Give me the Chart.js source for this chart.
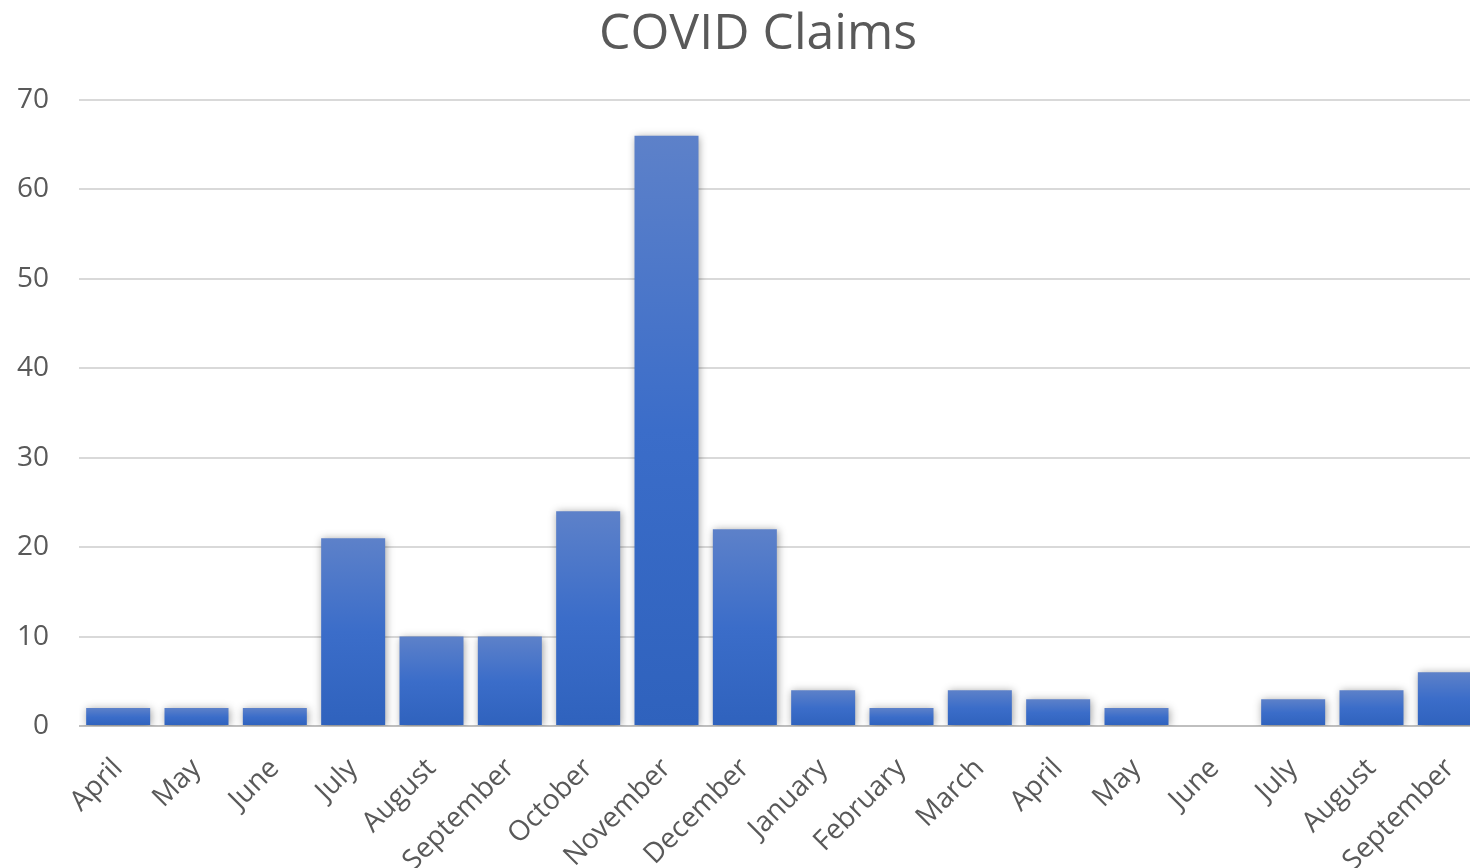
<!DOCTYPE html>
<html>
<head>
<meta charset="utf-8">
<title>COVID Claims</title>
<script src="https://cdn.jsdelivr.net/npm/chart.js@4/dist/chart.umd.min.js"></script>
<style>
  html, body { margin: 0; padding: 0; background: #fff; overflow: hidden; }
  #wrap { position: absolute; left: 0; top: 0; width: 1516px; height: 900px; }
</style>
</head>
<body>
<div id="wrap"><canvas id="chart" width="1516" height="900"></canvas></div>
<script>
// Monthly claim counts, April through the following September
const months = ['April', 'May', 'June', 'July', 'August', 'September', 'October', 'November',
  'December', 'January', 'February', 'March', 'April', 'May', 'June', 'July', 'August', 'September'];
const claims = [2, 2, 2, 21, 10, 10, 24, 66, 22, 4, 2, 4, 3, 2, 0, 3, 4, 6];
const yTicks = [0, 10, 20, 30, 40, 50, 60, 70];

const FONT = "'Open Sans', 'Noto Sans', sans-serif";
const TEXT = '#595959';

// Soft drop shadow behind the bars
const barShadow = {
  id: 'barShadow',
  beforeDatasetsDraw(chart) {
    const ctx = chart.ctx;
    ctx.save();
    ctx.shadowColor = 'rgba(0,0,0,0.38)';
    ctx.shadowBlur = 8;
    ctx.shadowOffsetX = 1;
    ctx.shadowOffsetY = 1;
  },
  afterDatasetsDraw(chart) {
    chart.ctx.restore();
  }
};

// Each bar gets its own light-to-dark vertical gradient
function barFill(c) {
  const chart = c.chart;
  const area = chart.chartArea;
  const y = chart.scales && chart.scales.y;
  if (!area || !y) return '#3d6ecb';
  const top = y.getPixelForValue(c.raw);
  const base = y.getPixelForValue(0);
  if (base - top < 1) return '#3d6ecb';
  const g = chart.ctx.createLinearGradient(0, top, 0, base);
  g.addColorStop(0, '#5d81c9');
  g.addColorStop(0.5, '#3b6dc9');
  g.addColorStop(1, '#2f62bd');
  return g;
}

new Chart(document.getElementById('chart'), {
  type: 'bar',
  data: {
    labels: months,
    datasets: [{
      label: 'Claims',
      data: claims,
      backgroundColor: barFill,
      borderWidth: 0,
      categoryPercentage: 1,
      barPercentage: 0.817
    }]
  },
  plugins: [barShadow],
  options: {
    responsive: false,
    animation: false,
    layout: { padding: 0 },
    plugins: {
      legend: { display: false },
      tooltip: { enabled: false },
      title: {
        display: true,
        text: 'COVID Claims',
        color: TEXT,
        font: { family: FONT, size: 50, weight: '400', lineHeight: 1.2 },
        padding: { top: 5, bottom: 35 }
      }
    },
    scales: {
      x: {
        grid: { display: false },
        border: { display: false },
        ticks: {
          color: TEXT,
          font: { family: FONT, size: 28 },
          minRotation: 45,
          maxRotation: 45,
          autoSkip: false,
          padding: 18
        },
        afterFit(scale) { scale.height = 174; }
      },
      y: {
        min: 0,
        max: 70,
        border: { display: false },
        grid: {
          color: (c) => (c.tick && c.tick.value === 0 ? '#bfbfbf' : '#d9d9d9'),
          lineWidth: 2,
          drawTicks: false
        },
        afterBuildTicks(scale) {
          scale.ticks = yTicks.map(v => ({ value: v }));
        },
        ticks: {
          color: TEXT,
          font: { family: FONT, size: 28 },
          padding: 30
        },
        afterFit(scale) { scale.width = 79; }
      },
      // empty right-hand margin of the chart frame
      yRight: {
        position: 'right',
        min: 0,
        max: 70,
        grid: { display: false },
        border: { display: false },
        ticks: { display: false },
        afterFit(scale) { scale.width = 27; }
      }
    }
  }
});
</script>
</body>
</html>
